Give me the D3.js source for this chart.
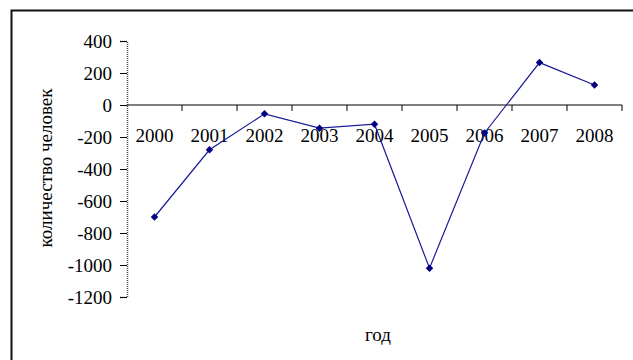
<!DOCTYPE html>
<html>
<head>
<meta charset="utf-8">
<script src="https://cdn.jsdelivr.net/npm/d3@7"></script>
<style>
  html, body { margin: 0; padding: 0; background: #fff; }
  svg { display: block; }
</style>
</head>
<body>
<svg id="chart" width="633" height="360"></svg>
<script>
// Migration balance by year
const years = ["2000", "2001", "2002", "2003", "2004", "2005", "2006", "2007", "2008"];
const people = [-700, -280, -55, -145, -120, -1020, -175, 265, 125];
const yTicks = [400, 200, 0, -200, -400, -600, -800, -1000, -1200];
const xTitle = "год";
const yTitle = "количество человек";

const FONT = "'Liberation Serif', 'Times New Roman', Times, serif";
const FS = 19;

const svg = d3.select("#chart");
const W = 633, H = 360;
const plot = { left: 127, right: 622, top: 41, bottom: 297 };

// Outer frame (open towards the right and bottom edges)
svg.append("path")
  .attr("d", `M11.5,${H + 5} L11.5,10.5 L${W + 5},10.5`)
  .attr("fill", "none")
  .attr("stroke", "#111")
  .attr("stroke-width", 2);

const x = d3.scaleBand().domain(years).range([plot.left, plot.right]).padding(0);
const y = d3.scaleLinear().domain([-1200, 400]).range([plot.bottom, plot.top]);

// Y axis
const yAxis = d3.axisLeft(y).tickValues(yTicks).tickSize(7).tickPadding(8)
  .tickFormat(d => String(d));
const gy = svg.append("g").attr("transform", `translate(${plot.left},0)`).call(yAxis);
gy.attr("font-family", null).attr("font-size", null);
gy.select(".domain").attr("stroke", "#444").attr("stroke-dasharray", "1,1").attr("stroke-width", 1.5);
gy.selectAll(".tick line").attr("stroke", "#000");
gy.selectAll(".tick text")
  .style("font-family", FONT).style("font-size", FS + "px")
  .attr("fill", "#000").attr("dy", "0.34em");

// X axis along zero
const zeroY = y(0);
svg.append("line")
  .attr("x1", plot.left).attr("x2", plot.right)
  .attr("y1", zeroY).attr("y2", zeroY)
  .attr("stroke", "#000").attr("stroke-width", 1);
const bounds = years.map(d => x(d)).concat([x(years[years.length - 1]) + x.bandwidth()]);
svg.selectAll(".xtick").data(bounds.slice(1)).join("line")
  .attr("class", "xtick")
  .attr("x1", d => d).attr("x2", d => d)
  .attr("y1", zeroY).attr("y2", zeroY + 6)
  .attr("stroke", "#000");
svg.selectAll(".xlabel").data(years).join("text")
  .attr("class", "xlabel")
  .attr("x", d => x(d) + x.bandwidth() / 2)
  .attr("y", 142)
  .attr("text-anchor", "middle")
  .style("font-family", FONT).style("font-size", FS + "px")
  .attr("fill", "#000")
  .text(d => d);

// Line and markers
const cx = (d, i) => x(years[i]) + x.bandwidth() / 2;
const line = d3.line().x((d, i) => cx(d, i)).y(d => y(d));
svg.append("path")
  .datum(people)
  .attr("d", line)
  .attr("fill", "none")
  .attr("stroke", "#1a1a99")
  .attr("stroke-width", 1.2);
svg.selectAll(".pt").data(people).join("path")
  .attr("class", "pt")
  .attr("transform", (d, i) => `translate(${cx(d, i)},${y(d)})`)
  .attr("d", d3.symbol().type(d3.symbolDiamond2).size(36))
  .attr("fill", "#000080");

// Axis titles
svg.append("text")
  .attr("x", 378)
  .attr("y", 341)
  .attr("text-anchor", "middle")
  .style("font-family", FONT).style("font-size", FS + "px")
  .attr("fill", "#000")
  .text(xTitle);
svg.append("text")
  .attr("transform", `translate(52,168) rotate(-90)`)
  .attr("text-anchor", "middle")
  .style("font-family", FONT).style("font-size", FS + "px")
  .attr("fill", "#000")
  .text(yTitle);
</script>
</body>
</html>
